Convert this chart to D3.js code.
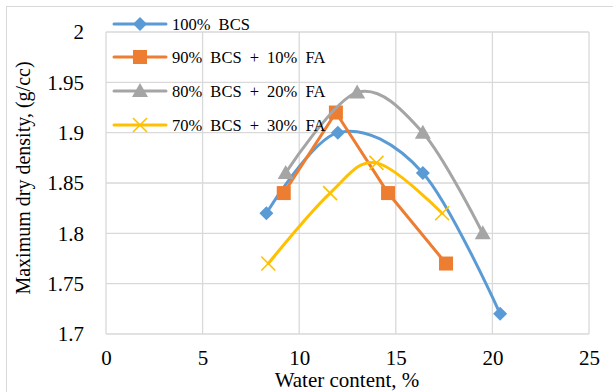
<!DOCTYPE html>
<html>
<head>
<meta charset="utf-8">
<script src="https://cdn.jsdelivr.net/npm/d3@7"></script>
<style>
  body { margin: 0; background: #fff; }
</style>
</head>
<body>
<script>
// series names
const seriesNames = ['100% BCS', '90% BCS + 10% FA', '80% BCS + 20% FA', '70% BCS + 30% FA'];
const seriesColors = ['#5b9bd5', '#ed7d31', '#a5a5a5', '#ffc000'];
const seriesMarkers = ['diamond', 'square', 'triangle', 'cross'];
const seriesSmooth = [true, false, true, true];

// water content (%) per series
const bcs100X = [8.3, 12.0, 16.4, 20.4];
const bcs90X = [9.2, 11.9, 14.6, 17.6];
const bcs80X = [9.3, 13.0, 16.4, 19.5];
const bcs70X = [8.4, 11.6, 14.0, 17.4];

// maximum dry density (g/cc) per series
const bcs100Y = [1.82, 1.90, 1.86, 1.72];
const bcs90Y = [1.84, 1.92, 1.84, 1.77];
const bcs80Y = [1.86, 1.94, 1.90, 1.80];
const bcs70Y = [1.77, 1.84, 1.87, 1.82];

const xTicks = [0, 5, 10, 15, 20, 25];
const yTicks = [1.7, 1.75, 1.8, 1.85, 1.9, 1.95, 2];

const W = 613, H = 392;
const FONT = '"Liberation Serif", "Times New Roman", serif';
const xsAll = [bcs100X, bcs90X, bcs80X, bcs70X];
const ysAll = [bcs100Y, bcs90Y, bcs80Y, bcs70Y];

const svg = d3.select('body').append('svg')
  .attr('width', W)
  .attr('height', H)
  .style('font-family', FONT);

// chart border
svg.append('rect')
  .attr('x', 6.5).attr('y', 6.5)
  .attr('width', 620).attr('height', 400)
  .attr('fill', 'none')
  .attr('stroke', '#d9d9d9');

const x = d3.scaleLinear().domain([0, 25]).range([106, 589]);
const y = d3.scaleLinear().domain([1.7, 2]).range([334, 32]);

// gridlines
const grid = svg.append('g');
grid.selectAll('.vg').data(xTicks).enter().append('line')
  .attr('x1', d => x(d)).attr('x2', d => x(d))
  .attr('y1', y(2)).attr('y2', y(1.7))
  .attr('stroke', '#d9d9d9').attr('stroke-width', 1.3);
grid.selectAll('.hg').data(yTicks).enter().append('line')
  .attr('x1', x(0)).attr('x2', x(25))
  .attr('y1', d => y(d)).attr('y2', d => y(d))
  .attr('stroke', '#d9d9d9').attr('stroke-width', 1.3);

// axes (labels only)
const xAxis = svg.append('g')
  .attr('transform', `translate(0,${y(1.7)})`)
  .call(d3.axisBottom(x).tickValues(xTicks).tickSize(0).tickPadding(16).tickFormat(d3.format('d')));
const yAxis = svg.append('g')
  .attr('transform', `translate(${x(0)},0)`)
  .call(d3.axisLeft(y).tickValues(yTicks).tickSize(0).tickPadding(22).tickFormat(d => String(+d.toFixed(2))));
[xAxis, yAxis].forEach(a => {
  a.select('.domain').remove();
  a.attr('font-family', FONT).attr('font-size', 21);
  a.selectAll('text')
    .style('font-family', FONT)
    .style('font-size', '21px')
    .attr('fill', '#000');
});

// axis titles
svg.append('text')
  .attr('x', 347).attr('y', 387)
  .attr('text-anchor', 'middle')
  .style('font-family', FONT)
  .style('font-size', '21px')
  .text('Water content, %');
svg.append('text')
  .attr('transform', 'translate(30,178) rotate(-90)')
  .attr('text-anchor', 'middle')
  .style('font-family', FONT)
  .style('font-size', '20px')
  .text('Maximum dry density, (g/cc)');

function drawMarker(g, kind, color, cx, cy) {
  if (kind === 'diamond') {
    g.append('path')
      .attr('d', `M${cx},${cy - 7}L${cx + 7},${cy}L${cx},${cy + 7}L${cx - 7},${cy}Z`)
      .attr('fill', color);
  } else if (kind === 'square') {
    g.append('rect')
      .attr('x', cx - 7).attr('y', cy - 7)
      .attr('width', 14).attr('height', 14)
      .attr('fill', color);
  } else if (kind === 'triangle') {
    g.append('path')
      .attr('d', `M${cx},${cy - 8}L${cx + 8},${cy + 6}L${cx - 8},${cy + 6}Z`)
      .attr('fill', color);
  } else {
    g.append('path')
      .attr('d', `M${cx - 7},${cy - 7}L${cx + 7},${cy + 7}M${cx + 7},${cy - 7}L${cx - 7},${cy + 7}`)
      .attr('stroke', color).attr('stroke-width', 1.6).attr('fill', 'none');
  }
}

const smoothLine = d3.line().x(d => x(d[0])).y(d => y(d[1])).curve(d3.curveCatmullRom.alpha(0));
const straightLine = d3.line().x(d => x(d[0])).y(d => y(d[1]));

xsAll.forEach((xs, i) => {
  const pts = xs.map((v, j) => [v, ysAll[i][j]]);
  const g = svg.append('g');
  g.append('path')
    .attr('d', (seriesSmooth[i] ? smoothLine : straightLine)(pts))
    .attr('fill', 'none')
    .attr('stroke', seriesColors[i])
    .attr('stroke-width', 3)
    .attr('stroke-linejoin', 'round')
    .attr('stroke-linecap', 'round');
  pts.forEach(p => drawMarker(g, seriesMarkers[i], seriesColors[i], x(p[0]), y(p[1])));
});

// legend
const legendY = [24, 57, 91, 125];
const legend = svg.append('g');
seriesNames.forEach((name, i) => {
  const ly = legendY[i];
  legend.append('line')
    .attr('x1', 114).attr('x2', 166)
    .attr('y1', ly).attr('y2', ly)
    .attr('stroke', seriesColors[i]).attr('stroke-width', 3)
    .attr('stroke-linecap', 'round');
  drawMarker(legend, seriesMarkers[i], seriesColors[i], 140, ly);
  legend.append('text')
    .attr('x', 172).attr('y', ly + 5.5)
    .style('font-family', FONT)
    .style('font-size', '16.5px')
    .style('word-spacing', '4px')
    .text(name);
});
</script>
</body>
</html>
